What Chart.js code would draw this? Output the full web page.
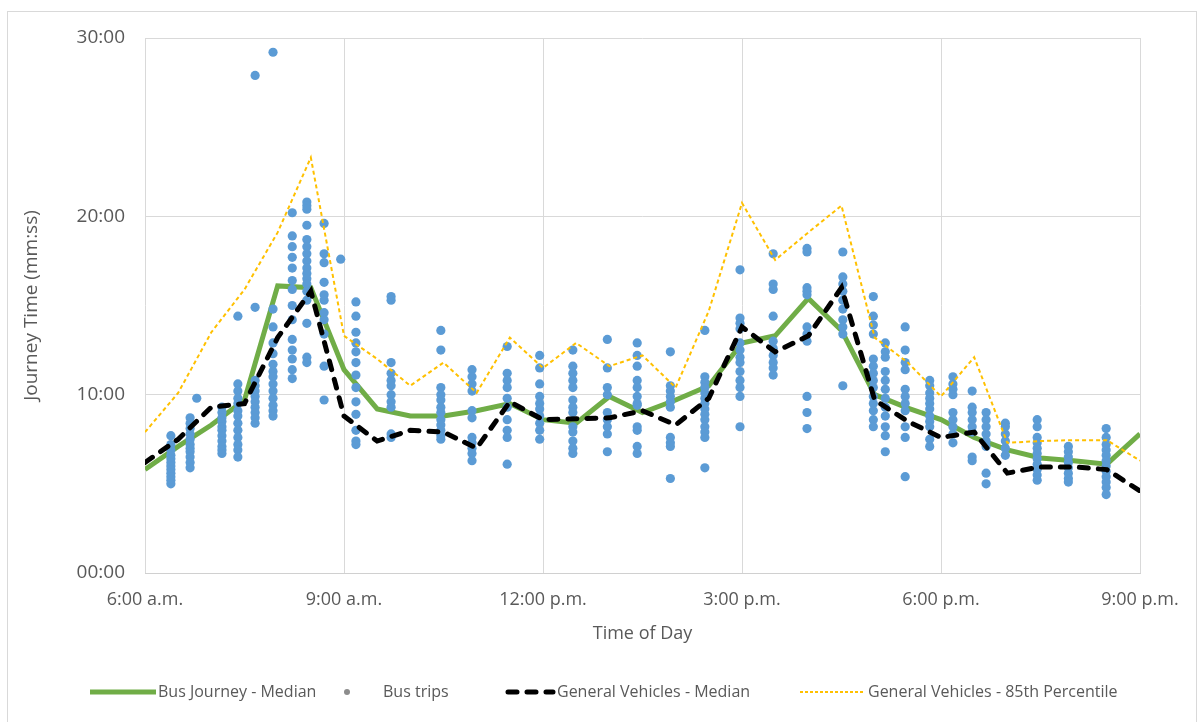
<!DOCTYPE html>
<html><head><meta charset="utf-8">
<script src="https://cdn.jsdelivr.net/npm/chart.js@4.4.0/dist/chart.umd.min.js"></script>
<style>html,body{margin:0;padding:0;background:#fff;}#wrap{width:1203px;height:722px;}</style>
</head><body><div id="wrap"><canvas id="c" width="1203" height="722"></canvas></div>
<script>
// Time of day in decimal hours (6 = 6:00 a.m., 21 = 9:00 p.m.)
const lineTimes = [6,6.5,7,7.5,8,8.5,9,9.5,10,10.5,11,11.5,12,12.5,13,13.5,14,14.5,15,15.5,16,16.5,17,17.5,18,18.5,19,19.5,20,20.5,21];
// Journey time in minutes
const busMedian = [5.8,7.1,8.3,9.7,16.1,16.0,11.4,9.2,8.8,8.8,9.1,9.5,8.6,8.4,9.9,9.0,9.7,10.5,12.9,13.3,15.4,13.6,10.0,9.25,8.6,7.6,6.9,6.45,6.3,6.1,7.8];
const gvMedian = [6.2,7.5,9.3,9.5,13.2,15.8,8.8,7.4,8.0,7.9,7.0,9.6,8.6,8.65,8.7,9.1,8.3,9.8,13.8,12.4,13.3,16.0,9.7,8.5,7.6,7.9,5.6,5.95,5.95,5.8,4.6];
const gv85th = [7.9,10.1,13.5,15.9,19.1,23.3,13.3,12.0,10.5,11.8,10.1,13.2,11.5,12.9,11.6,12.2,10.4,14.7,20.75,17.55,19.1,20.6,13.2,11.8,9.9,12.1,7.3,7.4,7.45,7.45,6.3];

// Bus trips: departure time columns and their journey times (minutes)
const busTripTimes = [6.39,6.68,6.78,7.16,7.40,7.66,7.93,8.22,8.44,8.70,8.95,9.18,9.71,10.46,10.93,11.46,11.95,12.45,12.97,13.42,13.92,14.44,14.97,15.47,15.98,16.52,16.98,17.16,17.46,17.83,18.18,18.47,18.68,18.97,19.45,19.92,20.49];
const busTripValues = [
  [7.7,7.2,6.9,6.6,6.4,6.2,6.0,5.8,5.6,5.4,5.2,5.0],
  [8.7,8.4,8.1,7.8,7.5,7.2,7.0,6.8,6.5,6.2,5.9],
  [9.8],
  [9.3,9.0,8.7,8.5,8.2,8.0,7.7,7.4,7.1,6.9,6.7],
  [14.4,10.6,10.2,9.8,9.5,9.1,8.8,8.4,8.0,7.6,7.2,6.9,6.5],
  [27.9,14.9,10.8,10.5,10.2,9.9,9.6,9.3,9.0,8.7,8.4],
  [29.2,14.8,13.8,12.9,12.3,11.7,11.3,11.0,10.6,10.2,9.8,9.4,9.1,8.8],
  [20.2,18.9,18.3,17.7,17.1,16.4,15.9,15.0,14.2,13.1,12.5,12.0,11.4,10.9],
  [20.8,20.6,20.4,19.5,18.7,18.3,17.9,17.5,17.1,16.8,16.5,16.2,15.8,15.3,14.0,12.1,11.8],
  [19.6,17.9,17.4,16.3,15.6,15.3,14.6,14.2,13.4,11.6,9.7],
  [17.6],
  [15.2,14.4,13.5,12.9,12.4,11.8,11.1,10.4,9.6,8.9,8.0,7.4,7.2],
  [15.5,15.3,11.8,11.2,10.8,10.5,10.0,9.6,9.3,7.8,7.6],
  [13.6,12.5,10.4,10.0,9.7,9.3,9.0,8.6,8.3,8.0,7.7,7.5],
  [11.4,11.0,10.6,10.2,9.1,8.7,7.6,7.3,7.0,6.7,6.3],
  [12.7,11.2,10.8,10.4,9.8,9.3,8.6,8.0,7.6,6.1],
  [12.2,11.5,10.6,9.9,9.5,9.2,8.8,8.4,8.0,7.5],
  [12.5,11.6,11.2,10.8,10.4,9.7,9.3,9.0,8.2,7.9,7.4,7.0,6.7],
  [13.1,11.5,10.4,10.0,9.0,8.6,8.2,7.8,6.8],
  [12.9,12.2,11.6,10.8,10.4,9.9,9.5,9.4,8.2,8.0,7.1,6.7],
  [12.4,10.5,10.2,9.9,9.6,9.3,7.6,7.3,7.1,5.3],
  [13.6,11.0,10.7,10.4,10.1,9.8,9.5,9.2,8.9,8.6,8.2,7.9,7.6,5.9],
  [17.0,14.3,14.0,13.7,12.9,12.5,12.1,11.8,11.3,10.8,10.4,9.9,8.2],
  [17.9,16.2,15.9,14.4,13.0,12.6,12.2,11.8,11.5,11.1],
  [18.2,18.0,16.0,15.8,15.6,13.8,13.4,13.0,9.9,9.0,8.1],
  [18.0,16.6,16.2,15.8,15.3,14.8,14.2,13.8,13.4,10.5],
  [15.5,14.4,13.9,13.4,12.0,11.6,11.2,10.8,10.4,9.9,9.5,9.1,8.6,8.2],
  [12.9,12.4,12.1,11.3,10.8,10.3,9.8,9.3,8.8,8.2,7.7,6.8],
  [13.8,12.5,11.8,11.4,10.3,9.9,9.5,9.1,8.2,7.6,5.4],
  [10.8,10.5,10.1,9.8,9.5,9.2,8.8,8.5,8.2,7.5,7.1],
  [11.0,10.6,10.3,10.0,9.0,8.6,8.2,7.8,7.3],
  [10.2,9.3,9.0,8.6,8.2,7.9,6.5,6.3],
  [9.0,8.6,8.2,7.8,7.4,7.1,5.6,5.0],
  [8.4,8.2,7.8,7.4,7.0,6.6],
  [8.6,8.2,7.6,7.3,7.0,6.7,6.4,6.1,5.8,5.5,5.2],
  [7.1,6.8,6.5,6.2,5.9,5.6,5.3,5.1],
  [8.1,7.6,7.2,6.9,6.6,6.3,6.0,5.7,5.4,5.1,4.8,4.4]
];

const xTickValues = [6,9,12,15,18,21];
const xTickLabels = ['6:00 a.m.','9:00 a.m.','12:00 p.m.','3:00 p.m.','6:00 p.m.','9:00 p.m.'];
const yTickValues = [0,10,20,30];
const yTickLabels = ['00:00','10:00','20:00','30:00'];

const seriesNames = ['Bus Journey - Median','Bus trips','General Vehicles - Median','General Vehicles - 85th Percentile'];

const FONT = "'Open Sans', sans-serif";
const TXT = '#595959';

const toXY = (xs, ys) => xs.map((x, i) => ({x: x, y: ys[i]}));
const tripPoints = [];
busTripTimes.forEach((t, i) => busTripValues[i].forEach(v => tripPoints.push({x: t, y: v})));

const frame = {
  id: 'frame',
  beforeDraw(chart) {
    const ctx = chart.ctx;
    ctx.save();
    ctx.fillStyle = '#fff';
    ctx.fillRect(0, 0, chart.width, chart.height);
    ctx.strokeStyle = '#d9d9d9';
    ctx.lineWidth = 1;
    ctx.strokeRect(7.5, 11.5, 1189, 720);
    ctx.restore();
  }
};

const legendPlugin = {
  id: 'customLegend',
  afterDraw(chart) {
    const ctx = chart.ctx;
    const y = 692;
    ctx.save();
    ctx.font = "16px " + FONT;
    ctx.fillStyle = TXT;
    ctx.textBaseline = 'middle';
    ctx.textAlign = 'left';
    ctx.strokeStyle = '#70AD47'; ctx.lineWidth = 5; ctx.lineCap = 'butt';
    ctx.beginPath(); ctx.moveTo(90, y); ctx.lineTo(156, y); ctx.stroke();
    ctx.fillText(seriesNames[0], 158, y);
    ctx.fillStyle = '#8c8c8c';
    ctx.beginPath(); ctx.arc(347, y, 3, 0, Math.PI * 2); ctx.fill();
    ctx.fillStyle = TXT;
    ctx.fillText(seriesNames[1], 383, y);
    ctx.strokeStyle = '#000'; ctx.lineWidth = 5; ctx.lineCap = 'round';
    ctx.setLineDash([9, 10]);
    ctx.beginPath(); ctx.moveTo(508, y); ctx.lineTo(553, y); ctx.stroke();
    ctx.fillText(seriesNames[2], 557, y);
    ctx.strokeStyle = '#FFC000'; ctx.lineWidth = 2; ctx.lineCap = 'butt';
    ctx.setLineDash([3, 2]);
    ctx.beginPath(); ctx.moveTo(800, y); ctx.lineTo(865, y); ctx.stroke();
    ctx.setLineDash([]);
    ctx.fillText(seriesNames[3], 868, y);
    ctx.restore();
  }
};

new Chart(document.getElementById('c'), {
  type: 'scatter',
  data: {
    datasets: [
      { label: seriesNames[0], type: 'line', data: toXY(lineTimes, busMedian), borderColor: '#70AD47', borderWidth: 5, pointRadius: 0, tension: 0, fill: false, order: 4 },
      { label: seriesNames[1], data: tripPoints, backgroundColor: '#5B9BD5', borderWidth: 0, pointRadius: 4.6, order: 3 },
      { label: seriesNames[2], type: 'line', data: toXY(lineTimes, gvMedian), borderColor: '#000000', borderWidth: 5, borderDash: [9, 10], borderCapStyle: 'round', pointRadius: 0, tension: 0, fill: false, order: 2 },
      { label: seriesNames[3], type: 'line', data: toXY(lineTimes, gv85th), borderColor: '#FFC000', borderWidth: 2, borderDash: [4, 3], pointRadius: 0, tension: 0, fill: false, order: 1 }
    ]
  },
  options: {
    responsive: false,
    animation: false,
    devicePixelRatio: 1,
    layout: { padding: { left: 16, top: 38, right: 63, bottom: 73 } },
    plugins: { legend: { display: false }, tooltip: { enabled: false }, title: { display: false } },
    scales: {
      x: {
        type: 'linear', min: 6, max: 21,
        afterBuildTicks: s => { s.ticks = xTickValues.map(v => ({value: v})); },
        afterFit: s => { s.height = 76; },
        ticks: { callback: v => xTickLabels[xTickValues.indexOf(v)], color: TXT, font: { family: FONT, size: 18 }, padding: 16, maxRotation: 0, autoSkip: false },
        grid: { color: '#d9d9d9', drawTicks: false, lineWidth: 1 },
        border: { color: '#d0d0d0' },
        title: { display: true, text: 'Time of Day', color: TXT, font: { family: FONT, size: 18 }, padding: 4 }
      },
      y: {
        min: 0, max: 30,
        afterBuildTicks: s => { s.ticks = yTickValues.map(v => ({value: v})); },
        afterFit: s => { s.width = 129; },
        ticks: { callback: v => yTickLabels[yTickValues.indexOf(v)], color: TXT, font: { family: FONT, size: 19 }, padding: 20 },
        grid: { color: '#d9d9d9', drawTicks: false, lineWidth: 1 },
        border: { display: false },
        title: { display: true, text: 'Journey Time (mm:ss)', color: TXT, font: { family: FONT, size: 19 }, padding: 4 }
      }
    }
  },
  plugins: [frame, legendPlugin]
});
</script>
</body></html>
